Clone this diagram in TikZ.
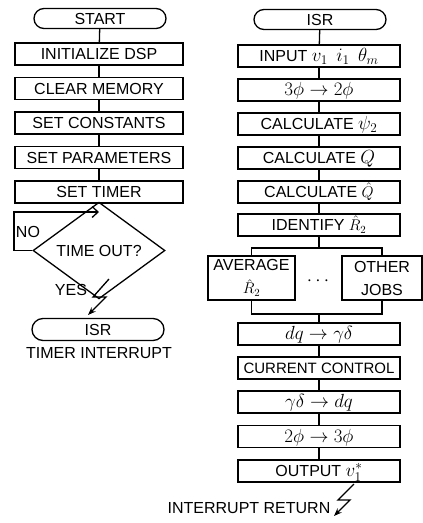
\RequirePackage{fix-cm}
\documentclass[tikz,border=0pt]{standalone}
\usepackage{fontspec}
\setmainfont{Liberation Sans}
\usetikzlibrary{shapes.misc,shapes.geometric,arrows.meta}
\newcommand\mth[1]{{\fontsize{19}{20}\selectfont$#1$}}
\newcommand\mhat[1]{{\fontsize{15.5}{18}\selectfont$#1$}}
\begin{document}
\begin{tikzpicture}[x=1pt,y=-1pt,
  every node/.style={font=\fontsize{16}{18}\selectfont, inner sep=0pt},
  ln/.style={line width=1.3pt},
  fixtxt/.style={text height=11.5pt, text depth=0pt},
  lbox/.style={draw, ln, fixtxt, minimum width=168pt, minimum height=22pt},
  rbox/.style={draw, ln, fixtxt, minimum width=162pt, minimum height=22pt},
  term/.style={draw, ln, fixtxt, rounded rectangle, minimum width=132pt, minimum height=20pt},
  dec/.style={draw, ln, diamond, minimum width=132pt, minimum height=55pt},
  jobbox/.style={draw, ln, minimum height=44pt, align=center, font=\fontsize{16}{23}\selectfont},
  bolt/.style={ln, -{Stealth[length=8pt,width=6pt]}},
  loopar/.style={ln, -{Straight Barb[length=6pt,width=11pt]}}
]
\useasboundingbox (0,0) rectangle (423,523);
% ---------------- left column
\node[term] (start) at (100,18.5) {START};
\node[lbox] (init) at (99,54) {INITIALIZE DSP};
\node[lbox] (clr) at (99,88.5) {CLEAR MEMORY};
\node[lbox] (cst) at (99,123) {SET CONSTANTS};
\node[lbox] (par) at (99,157.5) {SET PARAMETERS};
\node[lbox] (tim) at (99,192) {SET TIMER};
\coordinate (jn) at (99,212);
\node[dec] (dec) at (99,250.5) {TIME OUT?};
\coordinate (lpa) at (14,250.5);
\coordinate (lpb) at (14,212);
\node (no) at (28,232) {NO};
\node (yes) at (71,290) {YES};
\node[term, minimum height=22pt] (isrl) at (98,329.5) {ISR};
\node (ti) at (99,353) {TIMER INTERRUPT};
\coordinate (b1) at (109,279);
\coordinate (b2) at (93,297);
\coordinate (b3) at (106,297);
\coordinate (b4) at (88,315);
\draw[ln] (start) -- (init);
\draw[ln] (init) -- (clr);
\draw[ln] (clr) -- (cst);
\draw[ln] (cst) -- (par);
\draw[ln] (par) -- (tim);
\draw[ln] (tim) -- (dec);
\draw[loopar] (dec.west) -- (lpa) -- (lpb) -- (jn);
\draw[bolt] (b1) -- (b2) -- (b3) -- (b4);
% ---------------- right column
\node[term] (isr) at (320,19.5) {ISR};
\node[rbox] (inp) at (319,56) {INPUT \mth{v_1\;\, i_1\;\, \theta_m}};
\node[rbox] (t32) at (319,90) {\mth{3\phi \rightarrow 2\phi}};
\node[rbox] (cpsi) at (319,124) {CALCULATE \mth{\psi_2}};
\node[rbox] (cq) at (319,158) {CALCULATE \mth{Q}};
\node[rbox] (cqh) at (319,192) {CALCULATE \mhat{\hat{Q}}};
\node[rbox] (idr) at (319,225) {IDENTIFY \mhat{\hat{R}_2}};
\coordinate (sp) at (319,248);
\node[jobbox, minimum width=87pt] (avg) at (251.5,278) {AVERAGE\\\mhat{\hat{R}_2}};
\node[jobbox, minimum width=80pt] (oth) at (382,278) {OTHER\\JOBS};
\node (dots) at (318,281) {\mth{\cdots}};
\coordinate (sl) at (251.5,248);
\coordinate (sr) at (382,248);
\coordinate (ml) at (251.5,314);
\coordinate (mr) at (382,314);
\coordinate (mc) at (319,314);
\node[rbox] (dqg) at (319,334) {\mth{dq \rightarrow \gamma\delta}};
\node[rbox, font=\fontsize{15}{18}\selectfont] (cc) at (319,368) {CURRENT CONTROL};
\node[rbox] (gdq) at (319,402) {\mth{\gamma\delta \rightarrow dq}};
\node[rbox] (t23) at (319,436.5) {\mth{2\phi \rightarrow 3\phi}};
\node[rbox] (out) at (319,471) {OUTPUT \mth{v_1^{*}}};
\node (ret) at (249,508) {INTERRUPT RETURN};
\coordinate (r1) at (354,484);
\coordinate (r2) at (338,500);
\coordinate (r3) at (350,500);
\coordinate (r4) at (334,516);
\draw[ln] (isr) -- (inp);
\draw[ln] (inp) -- (t32);
\draw[ln] (t32) -- (cpsi);
\draw[ln] (cpsi) -- (cq);
\draw[ln] (cq) -- (cqh);
\draw[ln] (cqh) -- (idr);
\draw[ln] (idr) -- (sp);
\draw[ln] (avg.north) -- (sl) -- (sr) -- (oth.north);
\draw[ln] (avg.south) -- (ml) -- (mr) -- (oth.south);
\draw[ln] (mc) -- (dqg);
\draw[ln] (dqg) -- (cc);
\draw[ln] (cc) -- (gdq);
\draw[ln] (gdq) -- (t23);
\draw[ln] (t23) -- (out);
\draw[bolt] (r1) -- (r2) -- (r3) -- (r4);
\end{tikzpicture}
\end{document}
